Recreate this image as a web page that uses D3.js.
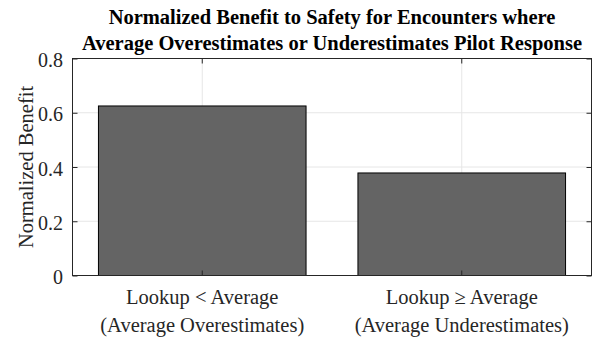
<!DOCTYPE html>
<html>
<head>
<meta charset="utf-8">
<script src="https://cdn.jsdelivr.net/npm/d3@7"></script>
<style>
  html, body { margin: 0; padding: 0; background: #fff; }
  svg text { font-family: "Liberation Serif", "Times New Roman", serif !important; }
</style>
</head>
<body>
<svg id="chart" width="595" height="339"></svg>
<script>
// Chart data
const categories = ["lt", "ge"];
const categoryLines = [
  ["Lookup < Average", "(Average Overestimates)"],
  ["Lookup \u2265 Average", "(Average Underestimates)"]
];
const benefitValues = [0.625, 0.378];
const yTicks = [0, 0.2, 0.4, 0.6, 0.8];
const yTickLabels = ["0", "0.2", "0.4", "0.6", "0.8"];
const titleLines = [
  "Normalized Benefit to Safety for Encounters where",
  "Average Overestimates or Underestimates Pilot Response"
];
const yLabel = "Normalized Benefit";

const svg = d3.select("#chart");
const W = 595, H = 339;
const x0 = 72.5, x1 = 591.5;
const y0 = 275.5, y1 = 58.5;

const x = d3.scaleBand().domain(categories).range([x0, x1]).paddingInner(0.2).paddingOuter(0.1);
const y = d3.scaleLinear().domain([0, 0.8]).range([y0, y1]);
const xc = c => x(c) + x.bandwidth() / 2;

// grid
const grid = svg.append("g").attr("stroke", "#e6e6e6").attr("stroke-width", 1);
grid.selectAll("line.h").data(yTicks.slice(1, -1)).join("line")
  .attr("x1", x0).attr("x2", x1).attr("y1", d => y(d)).attr("y2", d => y(d));
grid.selectAll("line.v").data(categories).join("line")
  .attr("x1", xc).attr("x2", xc).attr("y1", y0).attr("y2", y1);

// bars
svg.append("g").selectAll("rect").data(categories).join("rect")
  .attr("x", d => x(d))
  .attr("width", x.bandwidth())
  .attr("y", (d, i) => y(benefitValues[i]))
  .attr("height", (d, i) => y(0) - y(benefitValues[i]))
  .attr("fill", "#646464")
  .attr("stroke", "#000")
  .attr("stroke-width", 1);

// axes with inward ticks on all four sides
const tickLen = 5;
const axisL = svg.append("g").attr("transform", `translate(${x0},0)`)
  .call(d3.axisLeft(y).tickValues(yTicks).tickSize(-tickLen).tickPadding(9.5)
    .tickFormat((d, i) => yTickLabels[i]));
const axisR = svg.append("g").attr("transform", `translate(${x1},0)`)
  .call(d3.axisRight(y).tickValues(yTicks).tickSize(-tickLen).tickFormat(""));
const axisT = svg.append("g").attr("transform", `translate(0,${y1})`)
  .call(d3.axisTop(x).tickSize(-tickLen).tickFormat(""));
const axisB = svg.append("g").attr("transform", `translate(0,${y0})`)
  .call(d3.axisBottom(x).tickSize(-tickLen).tickFormat(""));
[axisL, axisR, axisT, axisB].forEach(a => {
  a.attr("font-family", null);
  a.selectAll(".domain").remove();
  a.selectAll("line").attr("stroke", "#262626");
});
axisL.selectAll("text").attr("font-size", 20).attr("fill", "#262626").attr("dy", "0.4em");

// box
svg.append("rect").attr("x", x0).attr("y", y1).attr("width", x1 - x0).attr("height", y0 - y1)
  .attr("fill", "none").attr("stroke", "#262626").attr("stroke-width", 1);

// category labels
const xl = svg.append("g");
categories.forEach((c, i) => {
  categoryLines[i].forEach((t, j) => {
    xl.append("text").attr("x", xc(c)).attr("y", 304 + j * 28)
      .attr("text-anchor", "middle").attr("font-size", 20.5).attr("fill", "#262626").text(t);
  });
});

// y label
svg.append("text")
  .attr("transform", `translate(33,${(y0 + y1) / 2}) rotate(-90)`)
  .attr("text-anchor", "middle").attr("font-size", 20.5).attr("fill", "#262626").text(yLabel);

// title
titleLines.forEach((t, j) => {
  svg.append("text").attr("x", (x0 + x1) / 2).attr("y", 24 + j * 26)
    .attr("text-anchor", "middle").attr("font-size", 20.5).attr("font-weight", "bold")
    .attr("fill", "#000").text(t);
});
</script>
</body>
</html>
